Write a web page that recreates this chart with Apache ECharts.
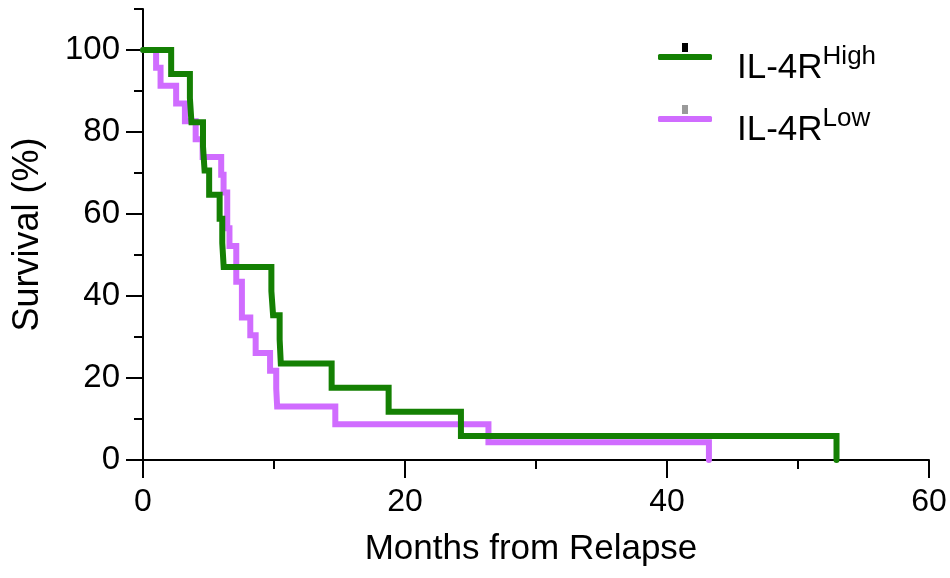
<!DOCTYPE html>
<html>
<head>
<meta charset="utf-8">
<script src="https://cdn.jsdelivr.net/npm/echarts@6/dist/echarts.min.js"></script>
<style>
  html, body { margin: 0; padding: 0; background: #fff; }
  #main { width: 950px; height: 578px; }
</style>
</head>
<body>
<div id="main"></div>
<script>
// Kaplan-Meier steps (month, survival %)
var highMonths   = [0, 2.15, 3.58, 3.7, 4.58, 4.7, 5.05, 5.85, 6.05, 6.16, 9.8, 9.93, 10.43, 10.52, 14.4, 18.75, 24.27, 52.94];
var highSurvival = [100, 94.12, 88.24, 82.35, 76.47, 70.59, 64.71, 58.82, 52.94, 47.06, 41.18, 35.29, 29.41, 23.53, 17.65, 11.76, 5.88, 0];

var lowMonths   = [0, 1.0, 1.34, 2.53, 3.2, 4.02, 4.55, 5.97, 6.15, 6.43, 6.43, 6.6, 7.12, 7.12, 7.55, 7.55, 8.19, 8.6, 9.7, 10.17, 10.24, 14.68, 26.37, 43.2];
var lowSurvival = [100, 95.65, 91.3, 86.96, 82.61, 78.26, 73.91, 69.57, 65.22, 60.87, 56.52, 52.17, 47.83, 43.48, 39.13, 34.78, 30.43, 26.09, 21.74, 17.39, 13.04, 8.7, 4.35, 0];

var xMajorTicks = [0, 20, 40, 60];
var xMinorTicks = [10, 30, 50];
var yMajorTicks = [0, 20, 40, 60, 80, 100];
var yMinorTicks = [10, 30, 50, 70, 90, 110];

var seriesNames = ['IL-4R High', 'IL-4R Low'];
var legendSup = ['High', 'Low'];
var seriesColors = ['#148003', '#d06cff'];
var censorColors = ['#000000', '#9a9a9a'];

function pairs(xs, ys) {
    var out = [];
    for (var i = 0; i < xs.length; i++) out.push([xs[i], ys[i]]);
    return out;
}

var font = 'Liberation Sans, Arial, sans-serif';

// one legend block per series so each row sits where the picture has it
function legendRow(i, top) {
    return {
        orient: 'vertical',
        left: 653,
        top: top,
        itemWidth: 54,
        itemHeight: 6,
        selectedMode: false,
        icon: 'roundRect',
        data: [{ name: seriesNames[i], itemStyle: { color: seriesColors[i] } }],
        formatter: function () { return '{a|IL-4R}{b|' + legendSup[i] + '}'; },
        textStyle: {
            padding: [18, 0, 0, 20],
            rich: {
                a: { fontSize: 35, lineHeight: 40, verticalAlign: 'bottom', fontFamily: font, color: '#000' },
                b: { fontSize: 26, lineHeight: 26, verticalAlign: 'bottom', padding: [0, 0, 16, 0], fontFamily: font, color: '#000' }
            }
        }
    };
}

var chart = echarts.init(document.getElementById('main'));

var option = {
    animation: false,
    backgroundColor: '#fff',
    textStyle: { fontFamily: font, color: '#000' },
    grid: { left: 143, right: 21, top: 9, bottom: 118, containLabel: false },
    legend: [legendRow(0, 39), legendRow(1, 101), {
        // small censor-tick marks drawn over the legend lines
        orient: 'vertical',
        left: 677,
        top: 38,
        itemWidth: 6,
        itemHeight: 9,
        itemGap: 53,
        selectedMode: false,
        icon: 'rect',
        data: [
            { name: seriesNames[0], itemStyle: { color: censorColors[0] } },
            { name: seriesNames[1], itemStyle: { color: censorColors[1] } }
        ],
        formatter: function () { return ''; },
        textStyle: { fontSize: 1, lineHeight: 1 }
    }],
    xAxis: [{
        type: 'value',
        min: 0,
        max: 60,
        interval: 10,
        position: 'bottom',
        name: 'Months from Relapse',
        nameLocation: 'middle',
        nameGap: 72,
        nameTextStyle: { fontSize: 35, fontFamily: font, color: '#000', padding: [0, 10, 0, 0] },
        axisLine: { show: true, onZero: false, lineStyle: { color: '#000', width: 2 } },
        axisTick: { show: true, length: 18, customValues: xMajorTicks, lineStyle: { color: '#000', width: 2 } },
        axisLabel: { show: true, customValues: xMajorTicks, margin: 26, fontSize: 32, fontFamily: font, color: '#000' },
        splitLine: { show: false }
    }, {
        type: 'value',
        min: 0,
        max: 60,
        interval: 10,
        position: 'bottom',
        axisLine: { show: false },
        axisTick: { show: true, length: 9, customValues: xMinorTicks, lineStyle: { color: '#000', width: 2 } },
        axisLabel: { show: false },
        splitLine: { show: false }
    }],
    yAxis: [{
        type: 'value',
        min: 0,
        max: 110,
        interval: 10,
        position: 'left',
        name: 'Survival (%)',
        nameLocation: 'middle',
        nameGap: 97,
        nameTextStyle: { fontSize: 36, fontFamily: font, color: '#000' },
        axisLine: { show: true, onZero: false, lineStyle: { color: '#000', width: 2 } },
        axisTick: { show: true, length: 17, customValues: yMajorTicks, lineStyle: { color: '#000', width: 2 } },
        axisLabel: { show: true, customValues: yMajorTicks, margin: 23, fontSize: 33, fontFamily: font, color: '#000' },
        splitLine: { show: false }
    }, {
        type: 'value',
        min: 0,
        max: 110,
        interval: 10,
        position: 'left',
        axisLine: { show: false },
        axisTick: { show: true, length: 9, customValues: yMinorTicks, lineStyle: { color: '#000', width: 2 } },
        axisLabel: { show: false },
        splitLine: { show: false }
    }],
    series: [{
        name: seriesNames[1],
        type: 'line',
        step: 'end',
        xAxisIndex: 0,
        yAxisIndex: 0,
        data: pairs(lowMonths, lowSurvival),
        symbol: 'none',
        clip: false,
        z: 2,
        lineStyle: { color: seriesColors[1], width: 6, cap: 'round', join: 'miter' },
        itemStyle: { color: seriesColors[1] }
    }, {
        name: seriesNames[0],
        type: 'line',
        step: 'end',
        xAxisIndex: 0,
        yAxisIndex: 0,
        data: pairs(highMonths, highSurvival),
        symbol: 'none',
        clip: false,
        z: 3,
        lineStyle: { color: seriesColors[0], width: 6, cap: 'round', join: 'miter' },
        itemStyle: { color: seriesColors[0] }
    }]
};

chart.setOption(option);
</script>
</body>
</html>
